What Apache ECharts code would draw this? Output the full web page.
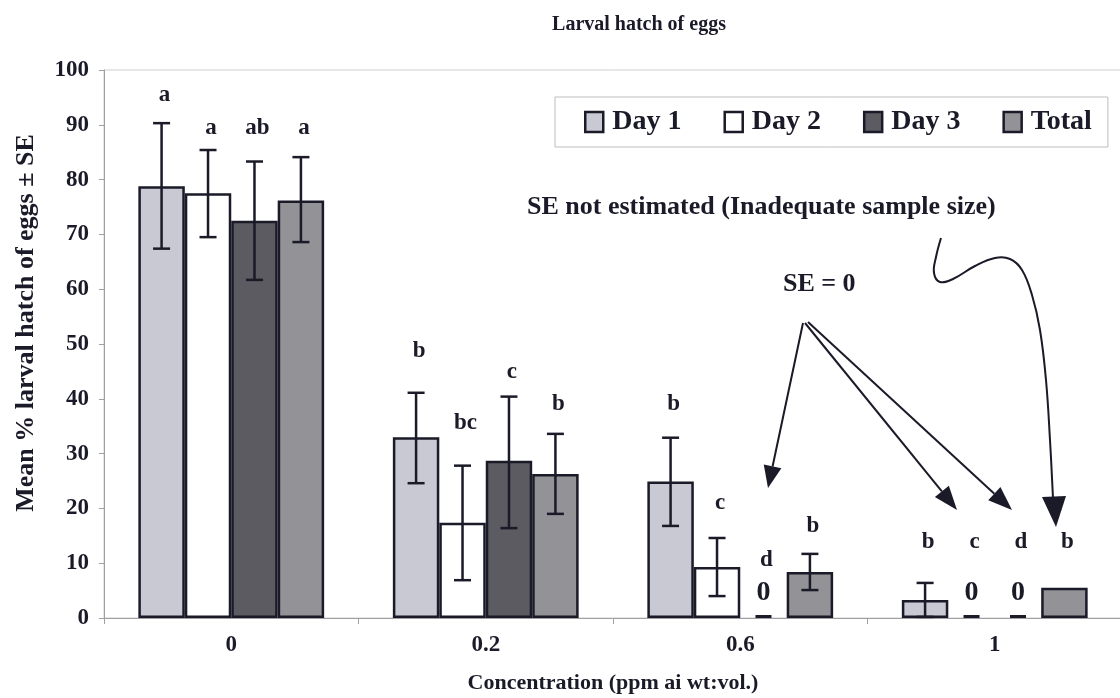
<!DOCTYPE html>
<html>
<head>
<meta charset="utf-8">
<script src="https://cdn.jsdelivr.net/npm/echarts@6/dist/echarts.min.js"></script>
<style>
  html, body { margin: 0; padding: 0; background: #ffffff; }
  #chart { width: 1120px; height: 698px; }
</style>
</head>
<body>
<div id="chart"></div>
<script>
// ---------- data ----------
const categories = ['0', '0.2', '0.6', '1'];
const seriesNames = ['Day 1', 'Day 2', 'Day 3', 'Total'];

const day1 = [78.8, 33.0, 24.9, 3.3];
const day2 = [77.5, 17.4, 9.3, 0];
const day3 = [72.5, 28.7, 0, 0];
const total = [76.2, 26.3, 8.4, 5.5];

// error bar limits (mean ± SE); null = no SE drawn
const day1Low = [67.4, 24.6, 16.8, 0.2];
const day1High = [90.3, 41.1, 32.9, 6.4];
const day2Low = [69.5, 6.9, 4.0, null];
const day2High = [85.4, 27.8, 14.6, null];
const day3Low = [61.7, 16.4, null, null];
const day3High = [83.3, 40.4, null, null];
const totalLow = [68.6, 19.0, 5.1, null];
const totalHigh = [84.1, 33.6, 11.7, null];

// significance letters and the level (in % units) where each is written
const day1Letters = ['a', 'b', 'b', 'b'];
const day2Letters = ['a', 'bc', 'c', 'c'];
const day3Letters = ['ab', 'c', 'd', 'd'];
const totalLetters = ['a', 'b', 'b', 'b'];
const day1LetterAt = [95.5, 48.8, 39.1, 13.8];
const day2LetterAt = [89.4, 35.5, 21.0, 13.8];
const day3LetterAt = [89.4, 44.8, 10.5, 13.8];
const totalLetterAt = [89.4, 39.1, 16.7, 13.8];

const yTicks = [0, 10, 20, 30, 40, 50, 60, 70, 80, 90, 100];

// ---------- styles ----------
const FONT = '"Liberation Serif", "Times New Roman", serif';
const INK = '#1a1a28';
const colors = ['#c9c9d3', '#ffffff', '#5b5b61', '#929297'];
const CAT_GAP = 0.27;

const values = [day1, day2, day3, total];
const lows = [day1Low, day2Low, day3Low, totalLow];
const highs = [day1High, day2High, day3High, totalHigh];
const letters = [day1Letters, day2Letters, day3Letters, totalLetters];
const letterAt = [day1LetterAt, day2LetterAt, day3LetterAt, totalLetterAt];

const barSeries = seriesNames.map((name, s) => ({
  name: name,
  type: 'bar',
  barGap: '0%',
  barCategoryGap: (CAT_GAP * 100) + '%',
  itemStyle: { color: colors[s], borderColor: INK, borderWidth: 2.5 },
  data: values[s].map(v => v === 0 ? { value: 0, itemStyle: { borderWidth: 0 } } : v),
  z: 2
}));

const marks = [];
seriesNames.forEach((name, s) => {
  categories.forEach((c, i) => {
    marks.push({
      cat: i, s: s, v: values[s][i], lo: lows[s][i], hi: highs[s][i],
      letter: letters[s][i], at: letterAt[s][i]
    });
  });
});

const extrasSeries = {
  type: 'custom',
  name: 'extras',
  z: 5,
  silent: true,
  clip: false,
  encode: { x: 0, y: 1 },
  data: marks.map(m => [m.cat, m.v]),
  renderItem: function (params, api) {
    const m = marks[params.dataIndex];
    const band = api.size([1, 0])[0];
    const bw = band * (1 - CAT_GAP) / 4;
    const cx = api.coord([m.cat, 0])[0] + (m.s - 1.5) * bw;
    const y0 = api.coord([m.cat, 0])[1];
    const children = [];
    const lineStyle = { stroke: INK, lineWidth: 2.5 };
    if (m.lo !== null && m.hi !== null) {
      const yl = api.coord([m.cat, m.lo])[1];
      const yh = api.coord([m.cat, m.hi])[1];
      children.push({ type: 'line', shape: { x1: cx, y1: yl, x2: cx, y2: yh }, style: lineStyle });
      children.push({ type: 'line', shape: { x1: cx - 8.5, y1: yh, x2: cx + 8.5, y2: yh }, style: lineStyle });
      children.push({ type: 'line', shape: { x1: cx - 8.5, y1: yl, x2: cx + 8.5, y2: yl }, style: lineStyle });
    }
    if (m.v === 0) {
      children.push({ type: 'line', shape: { x1: cx - 8, y1: y0 - 1.5, x2: cx + 8, y2: y0 - 1.5 }, style: { stroke: INK, lineWidth: 3 } });
      children.push({
        type: 'text', x: cx, y: y0 - 25,
        style: { text: '0', fill: INK, font: 'bold 28px ' + FONT, textAlign: 'center', textVerticalAlign: 'middle' }
      });
    }
    const ly = api.coord([m.cat, m.at])[1];
    children.push({
      type: 'text', x: cx + 3, y: ly,
      style: { text: m.letter, fill: INK, font: 'bold 23px ' + FONT, textAlign: 'center', textVerticalAlign: 'middle' }
    });
    return { type: 'group', children: children };
  }
};

// ---------- annotation arrows ----------
function arrow(x1, y1, x2, y2, len, half) {
  const dx = x2 - x1, dy = y2 - y1;
  const d = Math.sqrt(dx * dx + dy * dy);
  const ux = dx / d, uy = dy / d;
  const bx = x2 - ux * len, by = y2 - uy * len;
  return [
    { type: 'line', shape: { x1: x1, y1: y1, x2: bx, y2: by }, style: { stroke: INK, lineWidth: 2 }, z: 10 },
    { type: 'polygon', shape: { points: [[x2, y2], [bx - uy * half, by + ux * half], [bx + uy * half, by - ux * half]] }, style: { fill: INK }, z: 10 }
  ];
}

const curvePts = [[941, 238], [936, 257], [934, 273], [940, 282], [953, 279], [975, 266], [995, 258], [1010, 259], [1022, 270], [1032, 295], [1040, 330], [1046, 380], [1050, 440], [1053, 498]];

const graphics = [
  { type: 'text', x: 26, y: 323, rotation: Math.PI / 2,
    style: { text: 'Mean % larval hatch of eggs \u00b1 SE', font: 'bold 26px ' + FONT, fill: INK, textAlign: 'center', textVerticalAlign: 'middle' }, z: 10 },
  { type: 'text', x: 527, y: 207, style: { text: 'SE not estimated (Inadequate sample size)', font: 'bold 26px ' + FONT, fill: INK, textVerticalAlign: 'middle' }, z: 10 },
  { type: 'text', x: 783, y: 284, style: { text: 'SE = 0', font: 'bold 26px ' + FONT, fill: INK, textVerticalAlign: 'middle' }, z: 10 },
  { type: 'polyline', shape: { points: curvePts, smooth: 0.4 }, style: { stroke: INK, lineWidth: 2, fill: null }, z: 10 },
  { type: 'polygon', shape: { points: [[1056, 527], [1042, 497], [1066, 496]] }, style: { fill: INK }, z: 10 }
].concat(arrow(803, 323, 768, 488, 22, 9))
 .concat(arrow(805, 323, 957, 510, 24, 9))
 .concat(arrow(808, 322, 1012, 510, 24, 9));

const chart = echarts.init(document.getElementById('chart'), null, { renderer: 'canvas' });
chart.setOption({
  backgroundColor: '#ffffff',
  animation: false,
  textStyle: { fontFamily: FONT, color: INK },
  title: {
    text: 'Larval hatch of eggs',
    left: 634, top: 10, textAlign: 'center',
    textStyle: { fontFamily: FONT, fontWeight: 'bold', fontSize: 20, color: INK }
  },
  legend: {
    data: seriesNames,
    left: 555, top: 97,
    padding: [11, 16, 11, 29],
    itemGap: 42,
    itemWidth: 18, itemHeight: 20,
    icon: 'rect',
    borderColor: '#bdbdbd', borderWidth: 1,
    itemStyle: { borderColor: INK, borderWidth: 2.5 },
    textStyle: { fontFamily: FONT, fontWeight: 'bold', fontSize: 28, color: INK, padding: [0, 0, 0, 4] }
  },
  grid: {
    left: 104, top: 70, width: 1018, height: 548,
    outerBoundsMode: 'none',
    containLabel: false,
    show: true, borderColor: '#cfcfcf', borderWidth: 1, backgroundColor: 'transparent'
  },
  xAxis: {
    type: 'category',
    data: categories,
    name: 'Concentration (ppm ai wt:vol.)',
    nameLocation: 'middle',
    nameGap: 54,
    nameTextStyle: { fontFamily: FONT, fontWeight: 'bold', fontSize: 22, color: INK },
    axisLine: { lineStyle: { color: '#a0a0a0', width: 1 } },
    axisTick: { show: true, length: 6, lineStyle: { color: '#a0a0a0' } },
    axisLabel: { margin: 16, fontFamily: FONT, fontWeight: 'bold', fontSize: 23, color: INK },
    splitLine: { show: false }
  },
  yAxis: {
    type: 'value',
    min: yTicks[0], max: yTicks[yTicks.length - 1], interval: 10,
    axisLine: { show: true, lineStyle: { color: '#a0a0a0', width: 1 } },
    axisTick: { show: true, length: 5, lineStyle: { color: '#a0a0a0' } },
    axisLabel: { margin: 15, fontFamily: FONT, fontWeight: 'bold', fontSize: 23, color: INK },
    splitLine: { show: false }
  },
  series: barSeries.concat([extrasSeries]),
  graphic: graphics
});
</script>
</body>
</html>
